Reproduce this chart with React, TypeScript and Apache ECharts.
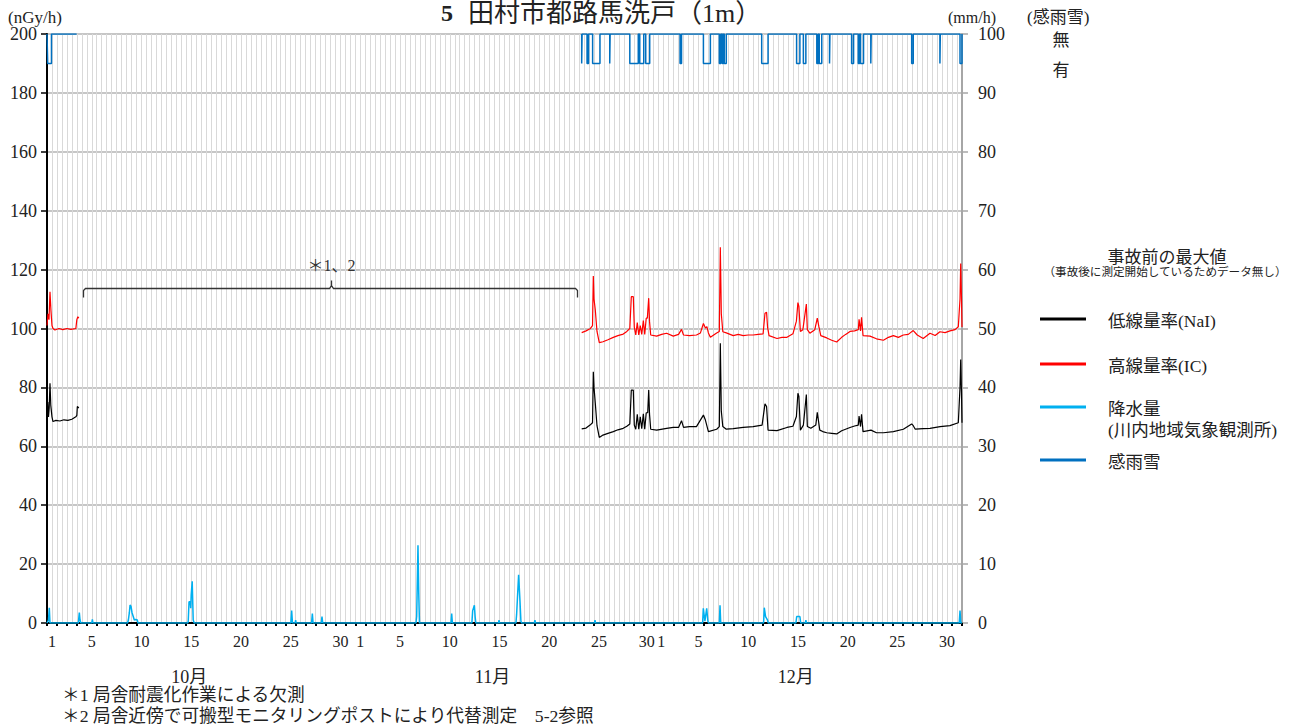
import React, { useEffect, useRef } from "react";
import * as echarts from "echarts";

// ---- axis / category data ----
const monthNames = ["10月", "11月", "12月"];
const monthDays = [31, 30, 31];
const labelDays = [1, 5, 10, 15, 20, 25, 30];
const leftTicks = { min: 0, max: 200, interval: 20 };
const rightTicks = { min: 0, max: 100, interval: 10 };

// ---- low dose rate (NaI) [day since Oct 1 00:00, nGy/h] ----
const nalOct: number[][] = [
  [0, 73.5], [0.08, 75], [0.15, 70], [0.22, 73], [0.3, 81.4], [0.38, 74], [0.5, 70], [0.6, 68.4],
  [0.9, 68.8], [1.3, 68.6], [1.7, 69], [2.1, 68.8], [2.5, 69.2], [2.9, 70], [3.0, 70.5], [3.05, 73.5], [3.2, 73],
];
const nalDec: number[][] = [
  [53.76, 65.9], [54.2, 66.2], [54.6, 67.2], [54.85, 68], [54.93, 85.3], [55.0, 80], [55.13, 74.6], [55.3, 67],
  [55.53, 63.0], [55.9, 63.8], [56.4, 64.4], [56.94, 65.0], [57.4, 65.6], [57.94, 66.1], [58.3, 66.8], [58.6, 67.6],
  [58.75, 79.1], [58.95, 79.1], [59.05, 67.2], [59.2, 65.8], [59.35, 70.9], [59.5, 65.8], [59.65, 70], [59.8, 66],
  [59.96, 71.0], [60.1, 65.8], [60.25, 71.4], [60.4, 71.4], [60.5, 79.1], [60.58, 71], [60.7, 65.8], [61.3, 65.5],
  [62.3, 66.1], [62.97, 66.4], [63.5, 66.4], [63.8, 68.7], [64.0, 66.4], [64.6, 66.7], [65.3, 66.7], [66.0, 70.6],
  [66.2, 68.9], [66.5, 65.0], [67.33, 65.8], [67.6, 66.7], [67.7, 95.0], [67.8, 72], [67.95, 66.7], [68.3, 65.8],
  [69.0, 66], [70.0, 66.4], [71.0, 66.7], [71.9, 67.2], [72.19, 74.4], [72.35, 73.5], [72.5, 65.5], [73.4, 65.3],
  [74.4, 66.4], [75.0, 66.8], [75.35, 70.1], [75.5, 78.0], [75.6, 76.9], [75.75, 65.5], [76.05, 67.2], [76.35, 77.6],
  [76.45, 66.7], [76.8, 66.1], [77.3, 67.2], [77.45, 71.5], [77.7, 65.5], [78.0, 65.0], [78.4, 64.6], [78.9, 64.4],
  [79.4, 64.2], [79.9, 65.3], [80.74, 66.4], [81.2, 66.9], [81.57, 67.2], [81.65, 70.3], [81.8, 66.7], [81.9, 70.9],
  [82.05, 65.0], [82.85, 65.5], [83.4, 64.6], [84.1, 64.6], [85.1, 65], [86.1, 65.8], [86.94, 67.6], [87.1, 67.0],
  [87.3, 65.8], [88.1, 66], [88.78, 66.1], [89.8, 66.7], [90.79, 67], [91.63, 68.0], [91.8, 80], [91.87, 89.5],
  [91.95, 78], [92.0, 68],
];

// ---- high dose rate (IC) ----
const icOct: number[][] = [
  [0, 101], [0.1, 105], [0.2, 103], [0.3, 112.5], [0.4, 106], [0.5, 101], [0.6, 100], [0.8, 99.5],
  [1.2, 100], [1.6, 99.6], [2.0, 100], [2.4, 99.7], [2.9, 100], [3.0, 103], [3.1, 104], [3.2, 103.5],
];
const icDec: number[][] = [
  [53.76, 98.6], [54.2, 99.2], [54.6, 99.9], [54.85, 101], [54.93, 117.8], [55.0, 110], [55.13, 106.3], [55.3, 99],
  [55.53, 95.2], [55.9, 95.5], [56.4, 96.2], [56.94, 97.0], [57.4, 97.6], [57.94, 98.1], [58.3, 99], [58.6, 100],
  [58.75, 110.8], [58.95, 110.8], [59.05, 100.5], [59.2, 97.8], [59.35, 102], [59.5, 97.8], [59.65, 101], [59.8, 98],
  [59.96, 102.7], [60.1, 98], [60.25, 103.5], [60.36, 103.5], [60.5, 110.3], [60.58, 102.5], [60.7, 97.8], [61.3, 97.4],
  [61.8, 98], [62.3, 98.4], [62.97, 97.4], [63.5, 98], [63.8, 99.7], [64.0, 97.8], [64.6, 97.6], [65.3, 97.8],
  [65.7, 98.5], [66.0, 101.7], [66.2, 100.2], [66.35, 100.6], [66.5, 98.5], [66.7, 97], [67.33, 98.5], [67.6, 99],
  [67.7, 127.6], [67.8, 105], [67.95, 98.9], [68.3, 98.5], [69.0, 97.6], [69.5, 98], [70.0, 97.6], [70.5, 97.8],
  [71.0, 97.8], [71.5, 98], [72.0, 98.2], [72.19, 105.2], [72.35, 105.5], [72.45, 100.5], [72.6, 97.6], [73.4, 96.6],
  [73.9, 97], [74.4, 97], [75.0, 98.2], [75.35, 102.5], [75.5, 108.8], [75.6, 107.5], [75.75, 99], [76.0, 99.6],
  [76.35, 108.3], [76.45, 99.6], [76.7, 98.4], [77.2, 99.6], [77.45, 103.5], [77.6, 100.8], [77.8, 97.6], [78.4, 96.8],
  [78.9, 96], [79.4, 95.4], [79.9, 97], [80.3, 98], [80.74, 99], [81.2, 99.2], [81.57, 99.6], [81.65, 103.1],
  [81.8, 99.2], [81.9, 103.8], [82.05, 97.6], [82.75, 97.4], [83.4, 96.5], [84.1, 96], [84.6, 97], [85.1, 97.6],
  [85.6, 97], [86.1, 97.8], [86.6, 98], [87.1, 99.3], [87.5, 97.8], [88.1, 96.6], [88.78, 98.4], [89.3, 97.6],
  [89.78, 98.9], [90.3, 98.6], [90.79, 99.2], [91.3, 99.6], [91.63, 100.6], [91.8, 110], [91.87, 122.1], [91.95, 110],
  [92.0, 100.5],
];

// ---- precipitation (mm/h) ----
const precip: number[][] = [
  [0, 0], [0.15, 0.5], [0.23, 2.6], [0.3, 0],
  [3.15, 0], [3.25, 1.75], [3.32, 0.5], [3.4, 0],
  [4.5, 0], [4.56, 0.6], [4.62, 0],
  [8.1, 0], [8.18, 0.5], [8.28, 1.75], [8.35, 3.06], [8.45, 2.8], [8.55, 1.75], [8.68, 1.07], [8.78, 0.5], [8.92, 0.6], [9.08, 0.5], [9.15, 0],
  [14.15, 0], [14.2, 0.3], [14.28, 3.6], [14.4, 3.6], [14.45, 2.5], [14.5, 4.8], [14.6, 7.1], [14.7, 0.5], [14.8, 0],
  [24.52, 0], [24.6, 2.1], [24.68, 0],
  [24.95, 0], [25.0, 0.5], [25.05, 0],
  [26.6, 0], [26.68, 1.6], [26.75, 0],
  [27.58, 0], [27.65, 1.1], [27.72, 0],
  [37.1, 0], [37.17, 1.1], [37.3, 13.2], [37.38, 5], [37.45, 0],
  [40.62, 0], [40.69, 1.6], [40.76, 0],
  [42.72, 0], [42.8, 2.1], [42.97, 3.0], [43.05, 1.0], [43.12, 0],
  [45.4, 0], [45.45, 0.5], [45.5, 0],
  [47.15, 0], [47.22, 1.5], [47.42, 8.2], [47.56, 3.6], [47.65, 0.3], [47.72, 0],
  [49.0, 0], [49.06, 0.5], [49.12, 0],
  [55.05, 0], [55.1, 0.5], [55.15, 0],
  [65.92, 0], [65.99, 2.5], [66.15, 0.3], [66.33, 2.5], [66.45, 0.3], [66.52, 0],
  [67.6, 0], [67.67, 3.0], [67.74, 0],
  [72.05, 0], [72.12, 2.6], [72.25, 1.1], [72.45, 0.5], [72.52, 0],
  [75.3, 0], [75.38, 1.1], [75.7, 1.1], [75.78, 0],
  [76.25, 0], [76.3, 0.5], [76.36, 0],
  [91.72, 0], [91.8, 2.1], [91.88, 0], [92, 0],
];

// ---- rain/snow sensor (感雨雪): available periods and "有" periods ----
const sensorSegments: number[][] = [[0, 2.98], [53.76, 92]];
const sensorWet: number[][] = [
  [0.07, 0.45], [53.76, 53.8], [54.3, 54.45], [54.86, 55.6], [56.58, 56.62], [58.6, 59.45], [59.6, 60.0], [60.2, 60.6],
  [63.65, 63.8], [66.0, 66.7], [67.6, 67.75], [67.9, 68.0], [68.1, 68.3], [71.86, 72.5], [75.37, 75.7], [76.05, 76.3],
  [77.4, 77.55], [77.65, 77.9], [78.68, 78.72], [80.9, 81.1], [81.57, 81.7], [81.8, 82.1], [82.83, 82.87], [86.94, 87.1],
  [89.78, 89.82], [91.8, 92.0],
];
const sensorLevels = { none: 100, wet: 95 };

const FONT = "Liberation Serif, Noto Sans CJK JP, serif";
const NUMFONT = "Liberation Serif";

function joinSegments(segs: number[][][]): (number | null)[][] {
  const out: (number | null)[][] = [];
  segs.forEach((s, i) => {
    if (i > 0) out.push([s[0][0] - 0.01, null]);
    s.forEach((p) => out.push(p));
  });
  return out;
}

function buildSensor(): (number | null)[][] {
  const out: (number | null)[][] = [];
  sensorSegments.forEach(([a, b], i) => {
    if (i > 0) out.push([a - 0.01, null]);
    out.push([a, sensorLevels.none]);
    sensorWet
      .filter(([s, e]) => s >= a && e <= b)
      .forEach(([s, e]) => {
        out.push([s, sensorLevels.none], [s, sensorLevels.wet], [e, sensorLevels.wet], [e, sensorLevels.none]);
      });
    out.push([b, sensorLevels.none]);
  });
  return out;
}

function buildCategories(): string[] {
  const cats: string[] = [];
  monthDays.forEach((n, m) => {
    for (let d = 1; d <= n; d++) cats.push(`${m}-${d}`);
  });
  return cats;
}

// layout constants (pixel)
const G = { left: 47, top: 34, width: 915, height: 589 };
const TOTAL_DAYS = monthDays.reduce((a, b) => a + b, 0);
const dx = (d: number) => G.left + (d * G.width) / TOTAL_DAYS;
const vy = (v: number) => G.top + G.height - (v * G.height) / leftTicks.max;

const txt = (x: number, y: number, text: string, size: number, extra: any = {}) => ({
  type: "text",
  x,
  y,
  z: 100,
  style: { text, fontSize: size, fontFamily: FONT, fill: "#222", verticalAlign: "middle", ...extra },
});

export default function App() {
  const ref = useRef<HTMLDivElement>(null);
  useEffect(() => {
    if (!ref.current) return;
    const chart = echarts.init(ref.current, undefined, { renderer: "svg" });
    const cats = buildCategories();

    let acc = 0;
    const monthTexts = monthNames.map((name, i) => {
      const c = acc + monthDays[i] / 2;
      acc += monthDays[i];
      return txt(dx(c) - 12, 677, name, 18, { align: "center" });
    });

    const bx1 = Math.round(dx(3.6)) + 0.5;
    const bx2 = Math.round(dx(53.3)) + 0.5;
    const bmid = Math.round((bx1 + bx2) / 2) + 0.5;
    const by = Math.round(vy(113.8)) + 0.5;
    const bracket = {
      type: "polyline",
      z: 100,
      shape: {
        points: [
          [bx1, by + 9], [bx1, by + 2], [bx1 + 2, by], [bmid - 2, by], [bmid, by - 3], [bmid, by - 8],
          [bmid, by - 3], [bmid + 2, by], [bx2 - 2, by], [bx2, by + 2], [bx2, by + 9],
        ],
      },
      style: { stroke: "#333", lineWidth: 1.3, fill: null },
    };

    const legendItems = [
      { color: "#000000", y: 319, lines: ["低線量率(NaI)"] },
      { color: "#FF0000", y: 364, lines: ["高線量率(IC)"] },
      { color: "#00B0F0", y: 407, lines: ["降水量", "(川内地域気象観測所)"] },
      { color: "#0070C0", y: 460, lines: ["感雨雪"] },
    ];
    const legendGraphics: any[] = [];
    legendItems.forEach((it) => {
      legendGraphics.push({
        type: "line",
        z: 100,
        shape: { x1: 1040, y1: it.y, x2: 1086, y2: it.y },
        style: { stroke: it.color, lineWidth: 3 },
      });
      it.lines.forEach((t, k) => {
        legendGraphics.push(txt(1108, it.y + 2 + k * 21, t, 17.5));
      });
    });

    const option: any = {
      animation: false,
      textStyle: { fontFamily: FONT },
      grid: { left: G.left, top: G.top, width: G.width, height: G.height, containLabel: false },
      xAxis: [
        {
          type: "value",
          min: 0,
          max: TOTAL_DAYS,
          interval: 0.5,
          axisLine: { show: true, onZero: false, lineStyle: { color: "#000", width: 2 } },
          axisTick: { show: false },
          axisLabel: { show: false },
          splitLine: { show: true, lineStyle: { color: "#d9d9d9", width: 1 } },
        },
        {
          type: "category",
          data: cats,
          position: "bottom",
          boundaryGap: true,
          axisLine: { show: false },
          axisTick: { show: true, interval: 0, length: 3, inside: false, lineStyle: { color: "#000", width: 2 } },
          axisLabel: {
            interval: 0,
            margin: 10,
            fontSize: 16,
            fontFamily: NUMFONT,
            color: "#222",
            rich: {
              l: { fontSize: 16, fontFamily: NUMFONT, color: "#222", padding: [0, 4, 0, 0] },
              r: { fontSize: 16, fontFamily: NUMFONT, color: "#222", padding: [0, 0, 0, 5] },
            },
            formatter: (v: string) => {
              const [m, dStr] = v.split("-");
              const d = Number(dStr);
              const mi = Number(m);
              if (labelDays.indexOf(d) < 0) return "";
              // month-end "30" and next month's "1" sit side by side: nudge apart
              if (d === 30 && mi < monthDays.length - 1 && monthDays[mi] === 30) return `{l|${d}}`;
              if (d === 1 && mi > 0 && monthDays[mi - 1] === 30) return `{r|${d}}`;
              return String(d);
            },
          },
          splitLine: { show: false },
        },
      ],
      yAxis: [
        {
          type: "value",
          ...leftTicks,
          axisLine: { show: true, lineStyle: { color: "#000", width: 2 } },
          axisTick: { show: true, length: 6, lineStyle: { color: "#000", width: 1.5 } },
          axisLabel: { margin: 10, fontSize: 18, fontFamily: NUMFONT, color: "#222" },
          splitLine: { show: true, lineStyle: { color: "#b3b3b3", width: 1.5 } },
        },
        {
          type: "value",
          position: "right",
          ...rightTicks,
          axisLine: { show: true, lineStyle: { color: "#a6a6a6", width: 2 } },
          axisTick: { show: true, length: 6, lineStyle: { color: "#a6a6a6", width: 1.5 } },
          axisLabel: { margin: 16, fontSize: 18, fontFamily: NUMFONT, color: "#222" },
          splitLine: { show: false },
        },
      ],
      series: [
        {
          name: "降水量",
          type: "line",
          xAxisIndex: 0,
          yAxisIndex: 1,
          data: precip,
          showSymbol: false,
          symbol: "none",
          lineStyle: { color: "#00B0F0", width: 1.5 },
          itemStyle: { color: "#00B0F0" },
        },
        {
          name: "感雨雪",
          type: "line",
          xAxisIndex: 0,
          yAxisIndex: 1,
          data: buildSensor(),
          showSymbol: false,
          symbol: "none",
          connectNulls: false,
          lineStyle: { color: "#0070C0", width: 1.5 },
          itemStyle: { color: "#0070C0" },
        },
        {
          name: "高線量率(IC)",
          type: "line",
          xAxisIndex: 0,
          yAxisIndex: 0,
          data: joinSegments([icOct, icDec]),
          showSymbol: false,
          symbol: "none",
          connectNulls: false,
          lineStyle: { color: "#FF0000", width: 1.2 },
          itemStyle: { color: "#FF0000" },
        },
        {
          name: "低線量率(NaI)",
          type: "line",
          xAxisIndex: 0,
          yAxisIndex: 0,
          data: joinSegments([nalOct, nalDec]),
          showSymbol: false,
          symbol: "none",
          connectNulls: false,
          lineStyle: { color: "#000000", width: 1.2 },
          itemStyle: { color: "#000000" },
        },
      ],
      graphic: [
        txt(441, 13, "5", 24, { fontWeight: "bold" }),
        txt(468, 13, "田村市都路馬洗戸（1m）", 26),
        txt(8, 17, "(nGy/h)", 17),
        txt(948, 17, "(mm/h)", 16),
        txt(1027, 17, "(感雨雪)", 17),
        txt(1061, 40, "無", 17, { align: "center" }),
        txt(1061, 70, "有", 17, { align: "center" }),
        ...monthTexts,
        bracket,
        txt(bmid, 265, "＊1、2", 16, { align: "center", fill: "#333" }),
        txt(1167, 257, "事故前の最大値", 17, { align: "center" }),
        txt(1165, 272, "（事故後に測定開始しているためデータ無し）", 11.6, { align: "center" }),
        ...legendGraphics,
        txt(62, 695, "＊1 局舎耐震化作業による欠測", 17.7),
        txt(62, 716, "＊2 局舎近傍で可搬型モニタリングポストにより代替測定　5-2参照", 17.7),
      ],
    };
    chart.setOption(option);
    return () => chart.dispose();
  }, []);
  return <div ref={ref} style={{ position: "fixed", left: 0, top: 0, width: 1292, height: 727, background: "#fff" }} />;
}
